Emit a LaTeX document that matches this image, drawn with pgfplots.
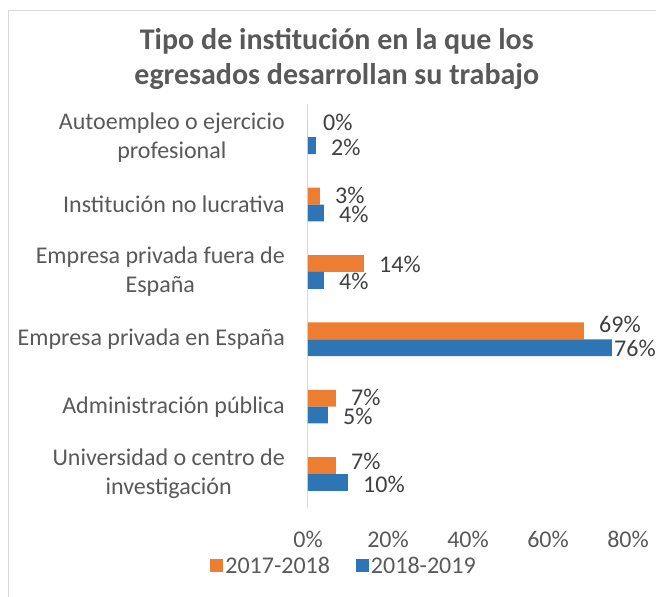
\documentclass[border=0pt]{standalone}
\usepackage{pgfplots}
\usepackage{pgfplotstable}
\pgfplotsset{compat=1.18}
\usepackage{fontspec}
\setmainfont{Carlito}
\definecolor{cOr}{HTML}{ED7D31}
\definecolor{cBl}{HTML}{2E75B6}
\definecolor{cTxt}{HTML}{595959}
\definecolor{cLab}{HTML}{404040}
\definecolor{cAx}{HTML}{D9D9D9}
\pgfplotstableread{
y val shift ysh
0 7 15 4
1 7 15 1
2 69 15 6
3 14 15 -1
4 3 15 1
5 0 15 6
}\dataA
\pgfplotstableread{
y val shift ysh
0 10 15 -2
1 5 15 -1
2 76 2 -1
3 4 15 -1
4 4 15 -1
5 2 15 -2
}\dataB
\begin{document}
\begin{tikzpicture}
\useasboundingbox (0pt,0pt) rectangle (656pt,-597pt);
\fill[white] (0pt,0pt) rectangle (656pt,-597pt);
\draw[cAx, line width=1pt] (8.5pt,-597pt) |- (656pt,-10pt);
\begin{axis}[
  at={(308pt,-507.7pt)}, anchor=south west,
  scale only axis, width=320pt, height=404.2pt,
  xbar, bar width=0.25,
  xmin=0, xmax=80, ymin=-0.5, ymax=5.5,
  axis y line*=left, axis x line*=bottom,
  x axis line style={draw=none},
  y axis line style={cAx, line width=1pt},
  major tick length=0pt,
  xtick={0,20,40,60,80},
  xticklabel={\pgfmathprintnumber{\tick}\%},
  /pgf/number format/assume math mode=true,
  xticklabel style={anchor=center, yshift=-32pt, font=\fontsize{24}{29}\selectfont, text=cTxt},
  ytick={0,1,2,3,4,5},
  yticklabels={{Universidad o centro de\\investigación},{Administración pública},{Empresa privada en España},{Empresa privada fuera de\\España},{Institución no lucrativa},{Autoempleo o ejercicio\\profesional}},
  yticklabel style={anchor=east, align=center, inner sep=0pt, xshift=-23pt, font=\fontsize{24}{29}\selectfont, text=cTxt},
  title={Tipo de institución en la que los\\egresados desarrollan su trabajo},
  title style={at={(rel axis cs:0.09,1.095)}, anchor=center, align=center, font=\fontsize{30}{34.5}\selectfont\bfseries, text=cTxt},
  point meta=explicit,
  nodes near coords={\pgfmathprintnumber{\pgfplotspointmeta}\%},
  visualization depends on={\thisrow{shift} \as \myshift},
  visualization depends on={\thisrow{ysh} \as \myysh},
  every node near coord/.append style={anchor=west, inner sep=0pt, xshift=\myshift pt, yshift=\myysh pt, font=\fontsize{24}{29}\selectfont, text=cLab},
  legend style={at={(rel axis cs:0.1125,-0.144)}, anchor=center, draw=none, fill=none, legend columns=2,
    font=\fontsize{24}{29}\selectfont, text=cTxt,
    /tikz/every even column/.append style={column sep=24pt}},
  legend image code/.code={\fill[#1] (0pt,-6.5pt) rectangle (13pt,6.5pt);},
]
\addplot[fill=cOr, draw=none, bar shift=0.125] table[x=val, y=y, meta=val] {\dataA};
\addlegendentry{2017-2018}
\addplot[fill=cBl, draw=none, bar shift=-0.125] table[x=val, y=y, meta=val] {\dataB};
\addlegendentry{2018-2019}
\end{axis}
\end{tikzpicture}
\end{document}
